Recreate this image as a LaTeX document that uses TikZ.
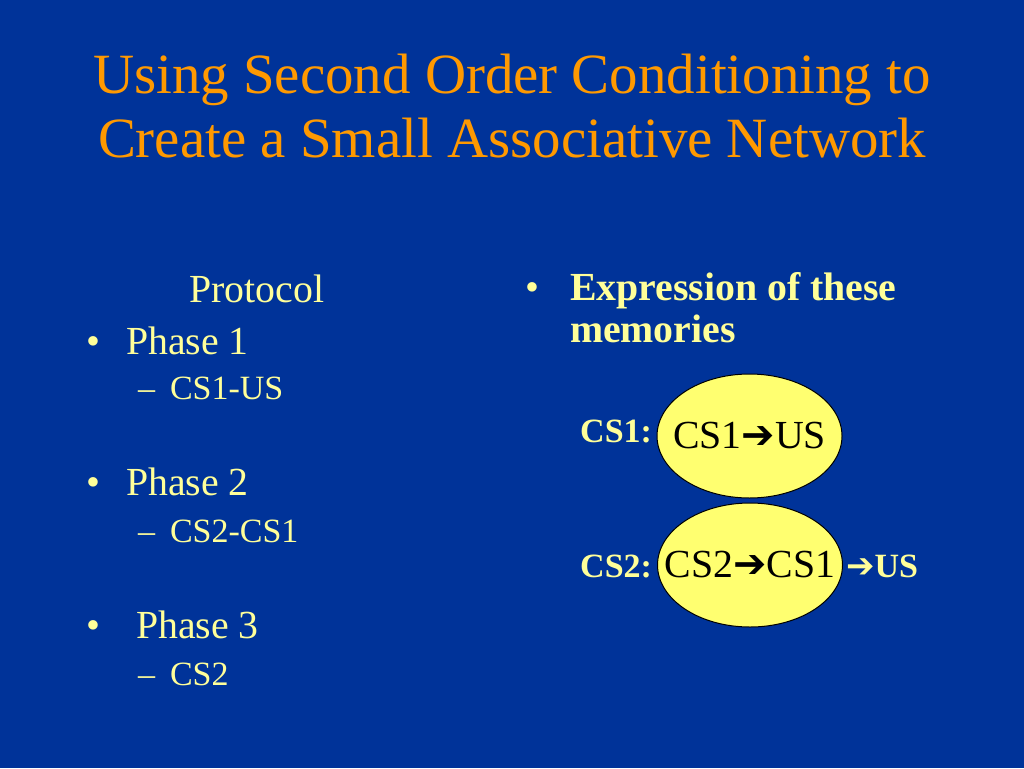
\documentclass[tikz,border=0pt]{standalone}
\usepackage{fontspec}
\setmainfont{Liberation Serif}
\newfontfamily\arrowfont{DejaVu Sans}
\usetikzlibrary{positioning,shapes.geometric}
\definecolor{slideblue}{RGB}{0,51,153}
\definecolor{titleorange}{RGB}{255,153,0}
\definecolor{textyellow}{RGB}{255,255,153}
\definecolor{blobyellow}{RGB}{255,255,112}
\newcommand{\rarr}{{\arrowfont ➔}}
\begin{document}
\begin{tikzpicture}[x=1pt,y=-1pt,
  every node/.style={inner sep=0pt,outer sep=0pt},
  titletext/.style={text=titleorange,font=\fontsize{56.9}{64}\selectfont,anchor=base},
  main/.style={text=textyellow,font=\fontsize{39.8}{48}\selectfont,anchor=base west},
  sub/.style={text=textyellow,font=\fontsize{34}{40}\selectfont,anchor=base west},
  blob/.style={ellipse,draw=black,line width=1pt,fill=blobyellow,minimum width=185pt,minimum height=124pt},
  blobtext/.style={font=\fontsize{39.8}{48}\selectfont},
  cue/.style={text=textyellow,font=\fontsize{34}{40}\selectfont\bfseries}]
\fill[slideblue] (0,0) rectangle (1024,768);
% title
\node[titletext] (title1) at (512,93) {Using Second Order Conditioning to};
\node[titletext] (title2) at (512,157) {Create a Small Associative Network};
% protocol column
\node[main,anchor=base] (proto) at (257,302) {Protocol};
\node[main] (b1) at (86,354) {•}; \node[main] (ph1) at (126,354) {Phase 1};
\node[sub] (d1) at (138,399) {–}; \node[sub] (s1) at (170,399) {CS1-US};
\node[main] (b2) at (86,495) {•}; \node[main] (ph2) at (126,495) {Phase 2};
\node[sub] (d2) at (138,542) {–}; \node[sub] (s2) at (170,542) {CS2-CS1};
\node[main] (b3) at (86,638) {•}; \node[main] (ph3) at (136,638) {Phase 3};
\node[sub] (d3) at (138,685) {–}; \node[sub] (s3) at (170,685) {CS2};
% expression column
\node[main] (b4) at (525,300) {•};
\node[main,font=\fontsize{39.8}{48}\selectfont\bfseries] (expr) at (570,300) {Expression of these};
\node[main,font=\fontsize{39.8}{48}\selectfont\bfseries] (mem) at (570,342) {memories};
\node[blob] (e1) at (749.5,436) {};
\node[blob] (e2) at (750,565) {};
\node[blobtext] (t1) at (e1) {CS1\rarr US};
\node[blobtext] (t2) at (e2) {CS2\rarr CS1};
\node[cue,anchor=base east] (c1) at (652,442) {CS1:};
\node[cue,anchor=base east] (c2) at (652,577) {CS2:};
\node[cue,anchor=base west] (us) at (846,577) {\rarr US};
\end{tikzpicture}
\end{document}
